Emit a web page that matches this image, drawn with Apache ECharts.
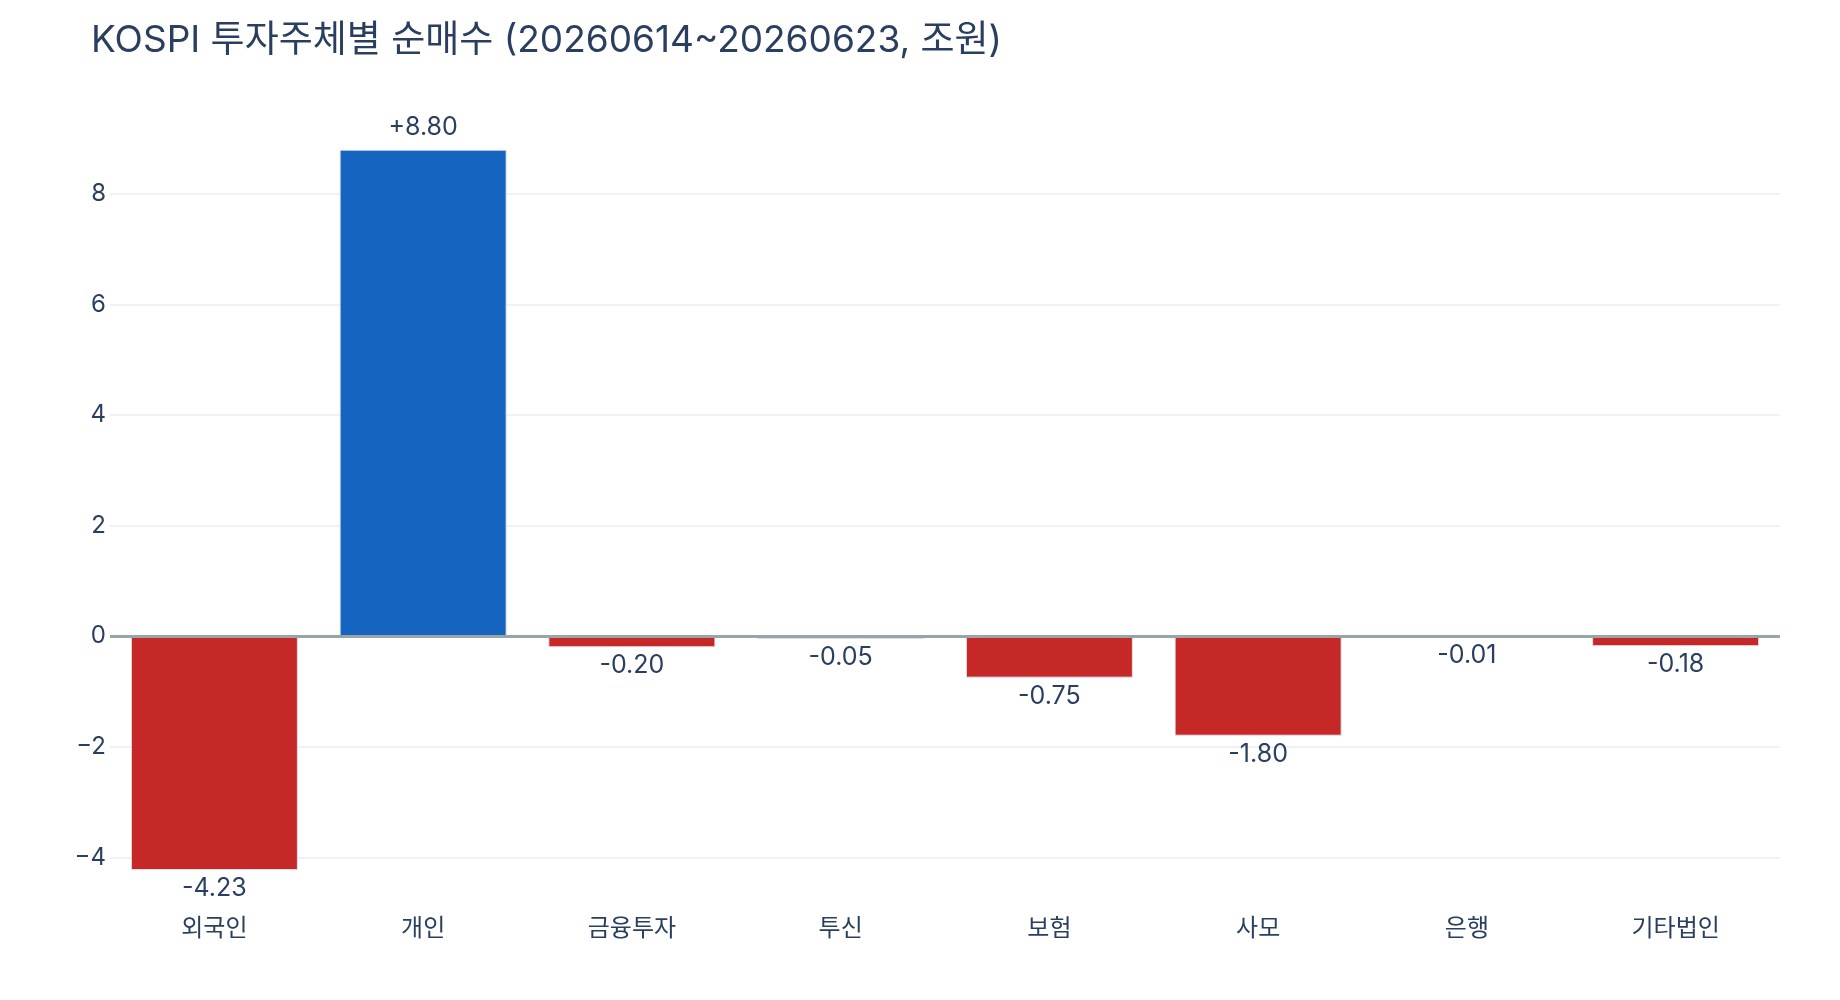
<!DOCTYPE html>
<html><head><meta charset="utf-8">
<style>html,body{margin:0;padding:0;background:#fff}#c{width:1840px;height:1000px}</style>
<script src="https://cdn.jsdelivr.net/npm/echarts@6/dist/echarts.min.js"></script>
</head><body><div id="c"></div>
<script>
const titleText = 'KOSPI 투자주체별 순매수 (20260614~20260623, 조원)';
const categories = ['외국인','개인','금융투자','투신','보험','사모','은행','기타법인'];
const values = [-4.23, 8.80, -0.20, -0.05, -0.75, -1.80, -0.01, -0.18];
const yTicks = [-4, -2, 0, 2, 4, 6, 8];

const FONT = 'Inter, "Noto Sans CJK KR", sans-serif';
const TXT = '#2a3f5f';
const chart = echarts.init(document.getElementById('c'));
chart.setOption({
  animation: false,
  backgroundColor: '#fff',
  title: { text: titleText, left: 86, top: 17,
    textStyle: { fontFamily: 'Inter, "Noto Sans CJK KR", sans-serif', fontSize: 37, fontWeight: 'normal', color: TXT } },
  grid: { left: 110, right: 60, top: 111, bottom: 104, containLabel: false },
  xAxis: { type: 'category', data: categories,
    axisLine: { show: false }, axisTick: { show: false },
    axisLabel: { fontFamily: '"Noto Sans CJK KR", sans-serif', fontSize: 24, color: TXT, margin: 19 } },
  yAxis: { type: 'value', min: -4.7, max: 9.5,
    splitLine: { show: false }, axisLine: { show: false }, axisTick: { show: false },
    axisLabel: { customValues: yTicks, fontFamily: FONT, fontSize: 24, color: TXT, margin: 4,
      formatter: v => (v < 0 ? '\u2212' + Math.abs(v) : String(v)) } },
  series: [
    { type: 'line', data: [], z: 1, silent: true,
      markLine: { z: 1, silent: true, symbol: 'none', label: { show: false }, animation: false,
        data: yTicks.filter(t => t !== 0).map(t => ({ yAxis: t, lineStyle: { color: '#eef1f6', width: 2, type: 'solid' } })) } },
    { type: 'bar', z: 2, barWidth: '80%',
      data: values.map(v => ({ value: v,
        itemStyle: { color: v >= 0 ? '#1565c0' : '#c62828', borderColor: 'rgba(225,232,242,0.9)', borderWidth: 1 },
        label: { show: true, position: v >= 0 ? 'top' : 'bottom', distance: v >= 0 ? 10 : 6,
          formatter: (v >= 0 ? '+' : '') + v.toFixed(2), fontFamily: FONT, fontSize: 25, color: TXT } })) },
    { type: 'line', data: [], z: 3, silent: true,
      markLine: { z: 6, silent: true, symbol: 'none', label: { show: false }, animation: false,
        data: [{ yAxis: 0, lineStyle: { color: '#98a5a6', width: 3, type: 'solid' } }] } }
  ]
});
</script></body></html>
